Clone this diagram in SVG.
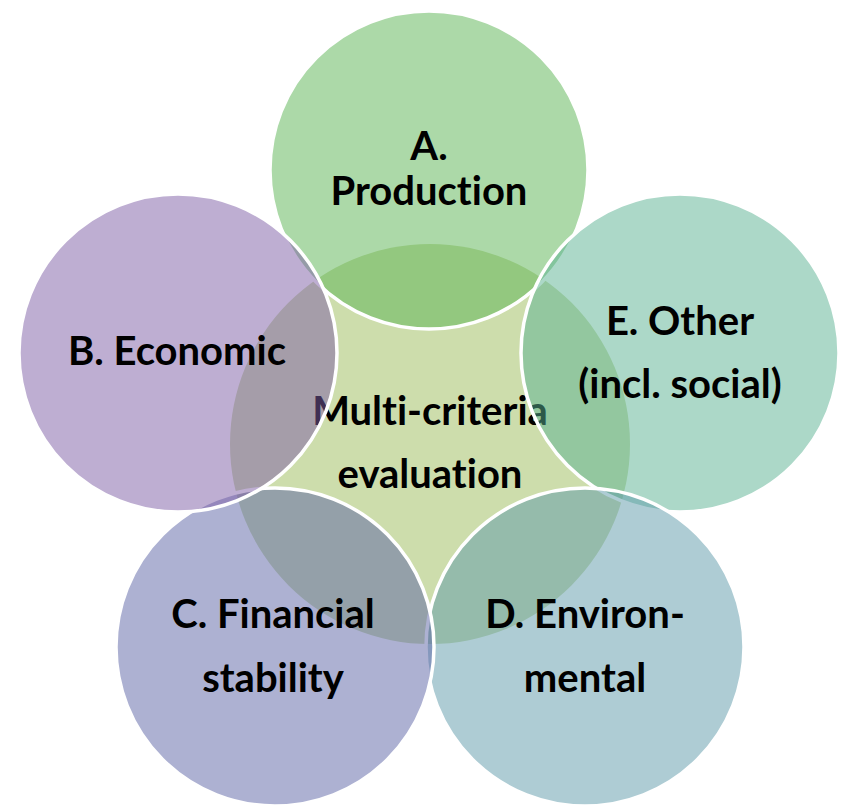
<svg xmlns="http://www.w3.org/2000/svg" width="844" height="808" viewBox="0 0 844 808">
  <style>
    .hub { fill: #CDDDAC; }
    .petal { stroke: #FFFFFF; stroke-width: 3.5; fill-opacity: 0.5; }
    .label { font-family: "Lato", "Liberation Sans", sans-serif; font-weight: bold; font-size: 40px; fill: #000000; text-anchor: middle; font-variant-ligatures: none; }
  </style>
  <rect width="844" height="808" fill="#FFFFFF"/>

  <!-- central hub, drawn first so the outer circles tint over it -->
  <g id="hub">
    <circle class="hub" cx="430" cy="444" r="200"/>
    <text class="label" x="430" y="425">Multi-criteria</text>
    <text class="label" x="430" y="488">evaluation</text>
  </g>

  <!-- outer circles, stacked clockwise from the top -->
  <g id="production">
    <circle class="petal" cx="429" cy="170" r="159" fill="#59B351"/>
    <text class="label" x="429" y="160">A.</text>
    <text class="label" x="429" y="205">Production</text>
  </g>

  <g id="other">
    <circle class="petal" cx="680" cy="353" r="159" fill="#59B191"/>
    <text class="label" x="680" y="335">E. Other</text>
    <text class="label" x="680" y="398">(incl. social)</text>
  </g>

  <g id="environmental">
    <circle class="petal" cx="585" cy="647" r="159" fill="#5D99A9"/>
    <text class="label" x="585" y="628">D. Environ-</text>
    <text class="label" x="585" y="692">mental</text>
  </g>

  <g id="financial">
    <circle class="petal" cx="275" cy="647" r="159" fill="#5B63A5"/>
    <text class="label" x="273" y="628">C. Financial</text>
    <text class="label" x="273" y="692">stability</text>
  </g>

  <g id="economic">
    <circle class="petal" cx="178" cy="353" r="159" fill="#7D5DA5"/>
    <text class="label" x="177" y="365">B. Economic</text>
  </g>

  <g id="connectors"/>
</svg>
